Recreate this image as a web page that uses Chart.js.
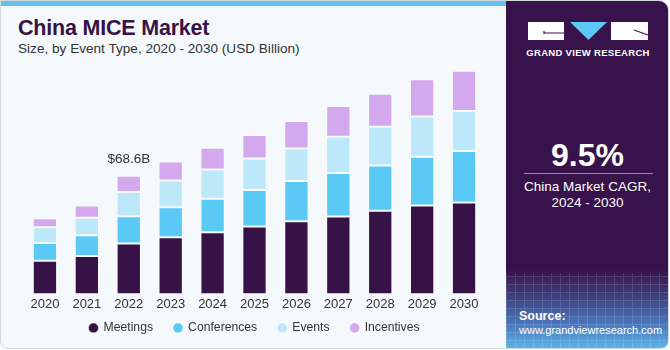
<!DOCTYPE html>
<html>
<head>
<meta charset="utf-8">
<script src="https://cdn.jsdelivr.net/npm/chart.js@4.4.0/dist/chart.umd.min.js"></script>
<style>
  html, body { margin: 0; padding: 0; background: #ffffff; }
  body { width: 670px; height: 350px; position: relative; overflow: hidden; font-family: "Liberation Sans", Arial, sans-serif; }
  .card { position: absolute; left: 0; top: 0; width: 667px; height: 347px; background: #f5f9fc;
          border: 1px solid #d3d8dd; border-radius: 0 10px 8px 8px; overflow: hidden; }
  .topline { position: absolute; left: 0; top: 0; width: 505px; height: 5px; background: #5fc3ee; }
  .title { position: absolute; left: 17px; top: 15px; font-size: 21.5px; font-weight: bold; color: #371247; letter-spacing: -0.2px; }
  .subtitle { position: absolute; left: 17px; top: 40px; font-size: 13.6px; color: #333; }
  #chartWrap { position: absolute; left: 0; top: 55px; width: 505px; height: 292px; }
  .panel { position: absolute; left: 505px; top: 0; width: 163px; height: 348px;
           background: linear-gradient(to bottom, #38124a 0%, #38124a 77%, #3e3a78 84%, #4a78bd 93%, #5bb6e8 100%); }
  .mesh { position: absolute; left: 0; top: 272px; width: 163px; height: 76px; opacity: 0.13;
          background:
            repeating-linear-gradient(90deg, #ffffff 0 1px, transparent 1px 9px),
            repeating-linear-gradient(0deg, #ffffff 0 1px, transparent 1px 8px); }
  .cagr { position: absolute; left: 0; width: 163px; text-align: center; color: #fff; }
  .big { top: 136px; font-size: 32px; font-weight: bold; }
  .divider { position: absolute; left: 18px; top: 172px; width: 129px; height: 1px; background: #9c86ad; }
  .small { font-size: 13.5px; line-height: 16px; top: 178px; }
  .src { position: absolute; left: 13px; top: 308px; color: #fff; font-size: 11px; line-height: 14px; }
  .src b { font-size: 12.5px; }
</style>
</head>
<body>
<div class="card">
  <div class="topline"></div>
  <div class="title">China MICE Market</div>
  <div class="subtitle">Size, by Event Type, 2020 - 2030 (USD Billion)</div>
  <div id="chartWrap"><canvas id="miceChart"></canvas></div>
  <div class="panel">
    <div class="mesh"></div>
    <svg style="position:absolute;left:0;top:0" width="163" height="60">
      <rect x="22" y="21" width="36" height="18" fill="#fff"/>
      <line x1="38" y1="32" x2="58" y2="32" stroke="#38124a" stroke-width="1.2"/>
      <line x1="38" y1="30" x2="38" y2="33" stroke="#38124a" stroke-width="1.2"/>
      <polygon points="64,21 101,21 82.5,39" fill="#5bc8f5"/>
      <rect x="105" y="21" width="37" height="18" fill="#fff"/>
      <line x1="128" y1="29" x2="142" y2="34" stroke="#38124a" stroke-width="1.2"/>
      <text x="82" y="55" text-anchor="middle" fill="#fff" font-size="9.5" font-weight="bold"
            letter-spacing="0.3" font-family="Liberation Sans, Arial, sans-serif">GRAND VIEW RESEARCH</text>
    </svg>
    <div class="cagr big">9.5%</div>
    <div class="divider"></div>
    <div class="cagr small">China Market CAGR,<br>2024 - 2030</div>
    <div class="src"><b>Source:</b><br>www.grandviewresearch.com</div>
  </div>
</div>
<script>
const years = ['2020', '2021', '2022', '2023', '2024', '2025', '2026', '2027', '2028', '2029', '2030'];
const meetings = [19.4, 22.1, 29.4, 32.9, 35.9, 39.2, 42.3, 45.0, 48.3, 51.4, 53.1];
const conferences = [10.3, 12.0, 15.7, 17.4, 19.4, 21.1, 23.3, 25.2, 26.2, 28.1, 29.8];
const events = [9.1, 10.1, 14.0, 15.5, 16.9, 18.2, 18.8, 20.9, 22.5, 23.3, 23.1];
const incentives = [5.1, 7.2, 9.5, 11.0, 12.6, 13.6, 15.9, 17.8, 19.0, 21.7, 23.3];
const calloutIndex = 2;

const seriesColors = {
    Meetings: '#371247',
    Conferences: '#5bc9f6',
    Events: '#bde8f9',
    Incentives: '#d4a8ec',
};

// total value label over the 2022 bar
const calloutPlugin = {
    id: 'callout',
    afterDatasetsDraw(chart) {
        const ctx = chart.ctx;
        const topMeta = chart.getDatasetMeta(3);
        const bar = topMeta.data[calloutIndex];
        const total = meetings[calloutIndex] + conferences[calloutIndex] + events[calloutIndex] + incentives[calloutIndex];
        ctx.save();
        ctx.font = '13.5px "Liberation Sans", Arial, sans-serif';
        ctx.fillStyle = '#333333';
        ctx.textAlign = 'center';
        ctx.textBaseline = 'middle';
        ctx.fillText('$' + total.toFixed(1) + 'B', bar.x, bar.y - 16);
        ctx.restore();
    }
};

// legend padding is used both ways; take back some of the vertical room for the bars
const legendShift = 13;
const legendSpacing = {
    id: 'legendSpacing',
    beforeInit(chart) {
        const fitFn = chart.legend.fit;
        chart.legend.fit = function () {
            fitFn.call(this);
            this.height -= legendShift;
        };
    },
    afterLayout(chart) {
        chart.legend.top -= legendShift;
        chart.legend.height += legendShift;
    }
};

const makeSet = (label, data, radius) => ({
    label: label,
    data: data,
    backgroundColor: seriesColors[label],
    borderColor: 'rgba(255,255,255,0.35)',
    borderWidth: 1,
    borderSkipped: false,
    borderRadius: radius,
    barPercentage: 0.58,
    categoryPercentage: 1.0,
});

const ctx = document.getElementById('miceChart');
new Chart(ctx, {
    type: 'bar',
    data: {
        labels: years,
        datasets: [
            makeSet('Meetings', meetings, 0),
            makeSet('Conferences', conferences, 0),
            makeSet('Events', events, 0),
            makeSet('Incentives', incentives, { topLeft: 2, topRight: 2 }),
        ]
    },
    options: {
        responsive: true,
        maintainAspectRatio: false,
        animation: false,
        layout: {
            padding: { left: 23, right: 21, top: 5, bottom: 4 }
        },
        scales: {
            x: {
                stacked: true,
                grid: { display: false, drawTicks: false },
                border: { display: false },
                ticks: {
                    color: '#333333',
                    padding: 2,
                    font: { size: 13, family: '"Liberation Sans", Arial, sans-serif' }
                }
            },
            y: {
                stacked: true,
                display: false,
                min: 0,
                max: 135,
            }
        },
        plugins: {
            legend: {
                position: 'bottom',
                labels: {
                    usePointStyle: true,
                    pointStyle: 'circle',
                    boxWidth: 8,
                    boxHeight: 7,
                    padding: 21,
                    color: '#333333',
                    font: { size: 12.2, family: '"Liberation Sans", Arial, sans-serif' }
                }
            },
            tooltip: { enabled: false }
        }
    },
    plugins: [calloutPlugin, legendSpacing]
});
</script>
</body>
</html>
